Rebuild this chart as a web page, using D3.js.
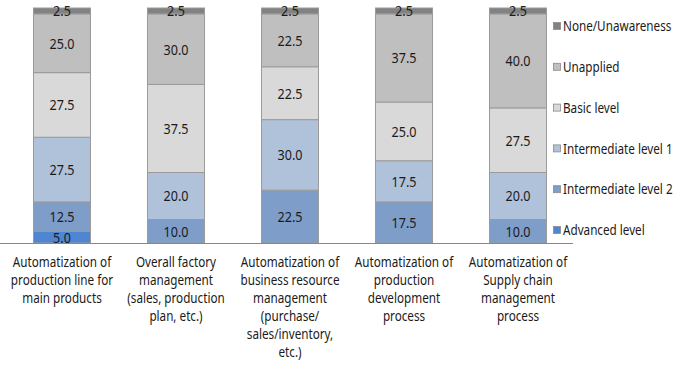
<!DOCTYPE html>
<html>
<head>
<meta charset="utf-8">
<script src="https://cdn.jsdelivr.net/npm/d3@7"></script>
<style>
  body { margin: 0; background: #fff; }
  svg { display: block; font-family: "Noto Sans", sans-serif; }
</style>
</head>
<body>
<div id="chart"></div>
<script>
// categories (x axis), each label split into lines
const categories = [
    ['Automatization of', 'production line for', 'main products'],
    ['Overall factory', 'management', '(sales, production', 'plan, etc.)'],
    ['Automatization of', 'business resource', 'management', '(purchase/', 'sales/inventory,', 'etc.)'],
    ['Automatization of', 'production', 'development', 'process'],
    ['Automatization of', 'Supply chain', 'management', 'process']
];

// series, stacked bottom to top
const seriesNames = ['Advanced level', 'Intermediate level 2', 'Intermediate level 1', 'Basic level', 'Unapplied', 'None/Unawareness'];
const seriesColors = ['#4f86d3', '#7e9dc8', '#afc2da', '#d9d9d9', '#bfbfbf', '#828282'];

const advanced      = [5.0, 0, 0, 0, 0];
const intermediate2 = [12.5, 10.0, 22.5, 17.5, 10.0];
const intermediate1 = [27.5, 20.0, 30.0, 17.5, 20.0];
const basic         = [27.5, 37.5, 22.5, 25.0, 27.5];
const unapplied     = [25.0, 30.0, 22.5, 37.5, 40.0];
const none          = [2.5, 2.5, 2.5, 2.5, 2.5];

const seriesValues = [advanced, intermediate2, intermediate1, basic, unapplied, none];

const width = 680, height = 365;
const margin = { top: 8, right: 105, bottom: 122, left: 5 };
const squeeze = 0.78;   // the original font is much narrower than Noto Sans

const svg = d3.select('#chart').append('svg')
    .attr('width', width)
    .attr('height', height);

const rows = categories.map((c, i) => {
    const r = { idx: i };
    seriesNames.forEach((s, k) => { r[s] = seriesValues[k][i]; });
    return r;
});

const stacked = d3.stack().keys(seriesNames)(rows);

const x = d3.scaleBand()
    .domain(d3.range(categories.length))
    .range([margin.left, width - margin.right])
    .paddingInner(0.5)
    .paddingOuter(0.25);

const y = d3.scaleLinear()
    .domain([0, 100])
    .range([height - margin.bottom, margin.top]);

const layers = svg.append('g').selectAll('g')
    .data(stacked)
    .join('g')
    .attr('fill', (d, k) => seriesColors[k]);

layers.selectAll('rect')
    .data(d => d.filter(p => p[1] - p[0] > 0))
    .join('rect')
    .attr('x', d => x(d.data.idx))
    .attr('y', d => y(d[1]))
    .attr('width', x.bandwidth())
    .attr('height', d => y(d[0]) - y(d[1]))
    .attr('stroke', '#9a9a9a')
    .attr('stroke-width', 1);

// value labels
stacked.forEach(layer => {
    svg.append('g').selectAll('g')
        .data(layer.filter(p => p[1] - p[0] > 0))
        .join('g')
        .attr('transform', d => `translate(${x(d.data.idx) + x.bandwidth() / 2},${(y(d[0]) + y(d[1])) / 2}) scale(0.84,1)`)
        .append('text')
        .attr('dy', '0.36em')
        .attr('text-anchor', 'middle')
        .style('font-size', '15px')
        .style('fill', '#1a1a1a')
        .text(d => (d[1] - d[0]).toFixed(1));
});

// baseline
svg.append('line')
    .attr('x1', 0).attr('x2', x.range()[1] - 2)
    .attr('y1', y(0) + 0.5).attr('y2', y(0) + 0.5)
    .attr('stroke', '#888')
    .attr('stroke-width', 1);

// category labels
svg.append('g').selectAll('g')
    .data(categories)
    .join('g')
    .attr('transform', (d, i) => `translate(${x(i) + x.bandwidth() / 2},${y(0)}) scale(${squeeze},1)`)
    .each(function(lines) {
        d3.select(this).selectAll('text')
            .data(lines)
            .join('text')
            .attr('y', (d, j) => 24 + j * 18)
            .attr('text-anchor', 'middle')
            .style('font-size', '15px')
            .style('fill', '#1a1a1a')
            .text(d => d);
    });

// legend, top entry first
const legend = svg.append('g').attr('transform', 'translate(553, 0)');
const legendOrder = d3.range(seriesNames.length).reverse();
const li = legend.selectAll('g')
    .data(legendOrder)
    .join('g')
    .attr('transform', (k, j) => `translate(0, ${26 + j * 40.8})`);

li.append('rect')
    .attr('x', 0.5).attr('y', -3.5)
    .attr('width', 7).attr('height', 7)
    .attr('fill', k => seriesColors[k])
    .attr('stroke', '#8a8a8a')
    .attr('stroke-width', 0.8);

li.append('text')
    .attr('transform', `translate(10,0) scale(${squeeze},1)`)
    .attr('dy', '0.35em')
    .style('font-size', '15px')
    .style('fill', '#1a1a1a')
    .text(k => seriesNames[k]);
</script>
</body>
</html>
